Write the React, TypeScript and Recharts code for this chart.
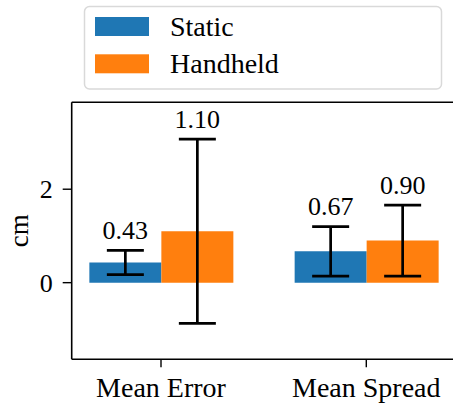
import React from 'react';
import { BarChart, Bar, XAxis, YAxis, ErrorBar, LabelList, ReferenceLine } from 'recharts';

const CATEGORIES = ['Mean Error', 'Mean Spread'];
const STATIC_VALUES = [0.43, 0.67];
const STATIC_ERRORS = [0.26, 0.53];
const HANDHELD_VALUES = [1.1, 0.9];
const HANDHELD_ERRORS = [1.97, 0.76];
const Y_TICKS = [0, 2];

const Y_DOMAIN: [number, number] = [-1.64, 3.86];
const X_DOMAIN: [number, number] = [-0.435, 1.435];

const SERIES = [
  { key: 'static', name: 'Static', color: '#1f77b4' },
  { key: 'handheld', name: 'Handheld', color: '#ff7f0e' },
];

const data = CATEGORIES.map((name, i) => ({
  pos: i,
  name,
  static: STATIC_VALUES[i],
  staticErr: STATIC_ERRORS[i],
  handheld: HANDHELD_VALUES[i],
  handheldErr: HANDHELD_ERRORS[i],
}));

const FONT = 'Liberation Serif';

// value text sits just above the upper error cap
const makeValueLabel = (errKey: string) => (props: any) => {
  const { x, y, width, height, value, index } = props;
  const err = (data[index] as any)[errKey];
  const pxPerUnit = height / value;
  const capY = y - err * pxPerUnit;
  return (
    <text
      x={x + width / 2}
      y={capY - 11.5}
      textAnchor="middle"
      style={{ fontFamily: FONT, fontSize: 26 }}
      fill="#000"
    >
      {Number(value).toFixed(2)}
    </text>
  );
};

const YLabel = (props: any) => {
  const { viewBox } = props;
  const cx = 28;
  const cy = viewBox.y + viewBox.height / 2;
  return (
    <text
      x={cx}
      y={cy}
      transform={`rotate(-90 ${cx} ${cy})`}
      textAnchor="middle"
      style={{ fontFamily: FONT, fontSize: 27 }}
      fill="#000"
    >
      cm
    </text>
  );
};

const Legend = () => (
  <svg width={453} height={95} style={{ position: 'absolute', left: 0, top: 0 }}>
    <rect x={84.5} y={6.5} width={357} height={82.5} rx={5} fill="#fff" stroke="#d9d9d9" strokeWidth={1.5} />
    {SERIES.map((s, i) => (
      <g key={s.key}>
        <rect x={95} y={17 + i * 37.3} width={54} height={19} fill={s.color} />
        <text x={170} y={36 + i * 37} style={{ fontFamily: FONT, fontSize: 28 }} fill="#000">
          {s.name}
        </text>
      </g>
    ))}
  </svg>
);

export default function App() {
  return (
    <div style={{ position: 'absolute', left: 0, top: 0, width: 453, height: 407, overflow: 'hidden', background: '#fff' }}>
      <BarChart
        width={460}
        height={407}
        data={data}
        margin={{ top: 102.3, right: 4.4, bottom: 0, left: 0 }}
        barGap={0}
        barSize={72}
      >
        <XAxis
          dataKey="pos"
          type="number"
          domain={X_DOMAIN}
          allowDataOverflow
          ticks={[0, 1]}
          tickFormatter={(v: number) => CATEGORIES[v]}
          height={47.7}
          tickSize={8}
          tickMargin={10}
          axisLine={{ stroke: '#000', strokeWidth: 1.6 }}
          tickLine={{ stroke: '#000', strokeWidth: 1.4 }}
          tick={{ fill: '#000', style: { fontFamily: FONT, fontSize: 28 } }}
          interval={0}
        />
        <YAxis
          type="number"
          domain={Y_DOMAIN}
          allowDataOverflow
          ticks={Y_TICKS}
          width={71.7}
          tickSize={9}
          tickMargin={10}
          axisLine={{ stroke: '#000', strokeWidth: 1.6 }}
          tickLine={{ stroke: '#000', strokeWidth: 1.4 }}
          tick={{ fill: '#000', style: { fontFamily: FONT, fontSize: 26 } }}
          label={<YLabel />}
        />
        <ReferenceLine y={Y_DOMAIN[1]} stroke="#000" strokeWidth={1.6} />
        {SERIES.map((s) => (
          <Bar key={s.key} dataKey={s.key} name={s.name} fill={s.color} isAnimationActive={false}>
            <ErrorBar dataKey={`${s.key}Err`} width={18.5} stroke="#000" strokeWidth={2.7} direction="y" />
            <LabelList dataKey={s.key} content={makeValueLabel(`${s.key}Err`)} />
          </Bar>
        ))}
      </BarChart>
      <Legend />
    </div>
  );
}
